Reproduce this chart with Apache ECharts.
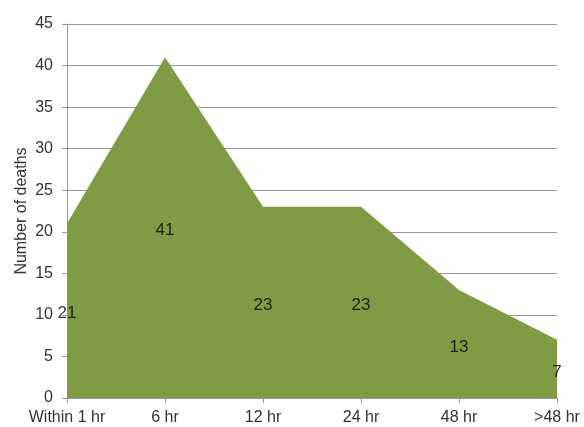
<!DOCTYPE html>
<html>
<head>
<meta charset="utf-8">
<script src="https://cdn.jsdelivr.net/npm/echarts@6/dist/echarts.min.js"></script>
<style>
  html, body { margin: 0; padding: 0; background: #fff; }
  #chart { width: 584px; height: 427px; }
</style>
</head>
<body>
<div id="chart"></div>
<script>
const categories = ['Within 1 hr', '6 hr', '12 hr', '24 hr', '48 hr', '>48 hr'];
const deaths = [21, 41, 23, 23, 13, 7];
const yTicks = { min: 0, max: 45, step: 5 };

const chart = echarts.init(document.getElementById('chart'));

const axisFont = { color: '#333', fontSize: 16, fontFamily: 'Liberation Sans' };

chart.setOption({
  backgroundColor: '#fff',
  animation: false,
  grid: { left: 67, right: 27, top: 24, bottom: 29, outerBoundsMode: 'none', containLabel: false },
  xAxis: {
    type: 'category',
    boundaryGap: false,
    data: categories,
    axisLine: { lineStyle: { color: '#999', width: 1 } },
    axisTick: { show: true, length: 5, interval: 0, lineStyle: { color: '#999' } },
    axisLabel: Object.assign({ margin: 12, interval: 0, hideOverlap: false }, axisFont),
    splitLine: { show: false }
  },
  yAxis: {
    type: 'value',
    min: yTicks.min,
    max: yTicks.max,
    interval: yTicks.step,
    name: 'Number of deaths',
    nameLocation: 'middle',
    nameGap: 37,
    nameMoveOverlap: false,
    nameTextStyle: axisFont,
    axisLine: { show: true, lineStyle: { color: '#999', width: 1 } },
    axisTick: { show: true, length: 5, lineStyle: { color: '#999' } },
    axisLabel: Object.assign({ margin: 14 }, axisFont),
    splitLine: { lineStyle: { color: '#999', width: 1 } }
  },
  series: [
    {
      type: 'line',
      data: deaths,
      symbol: 'none',
      lineStyle: { width: 0 },
      areaStyle: { color: '#7f9c45', opacity: 1 },
      z: 2
    },
    {
      // value labels sit at half the height of each point
      type: 'scatter',
      data: deaths.map((v, i) => [i, v / 2]),
      symbolSize: 1,
      itemStyle: { color: 'rgba(0,0,0,0)' },
      silent: true,
      label: {
        show: true,
        position: 'inside',
        offset: [0, 3],
        color: '#000',
        fontSize: 17,
        fontFamily: 'Liberation Sans',
        formatter: p => deaths[p.dataIndex]
      },
      z: 3
    }
  ]
});
</script>
</body>
</html>
